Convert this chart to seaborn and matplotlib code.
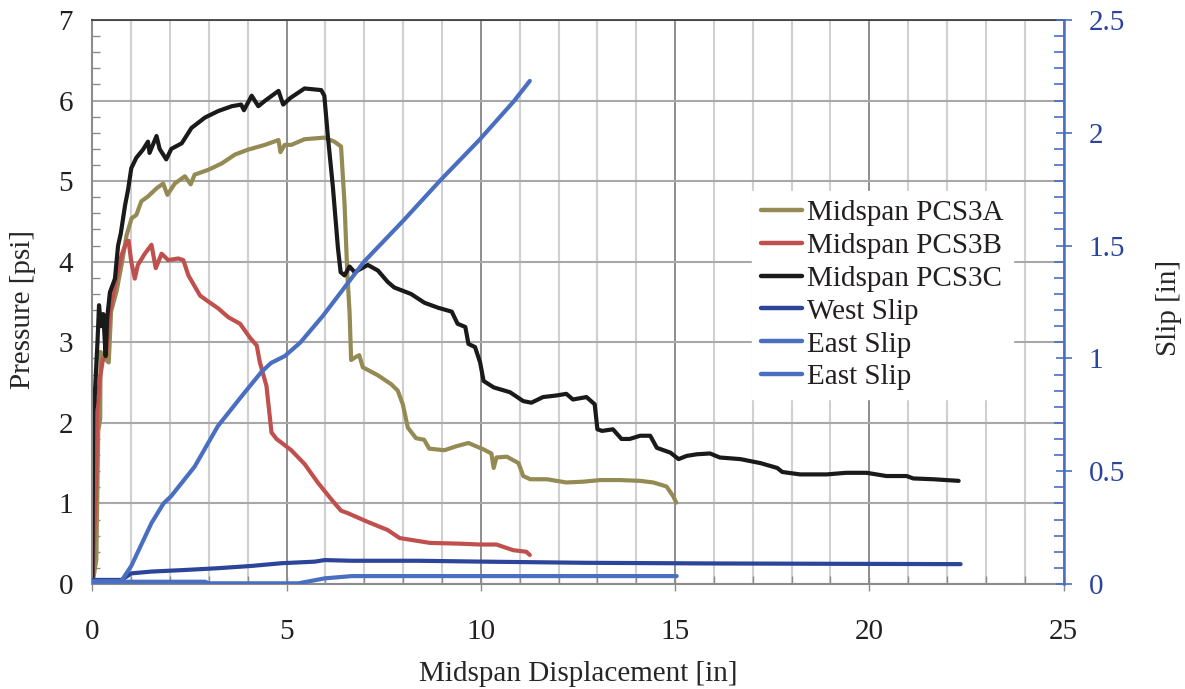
import pandas as pd
import seaborn as sns
from matplotlib import pyplot as plt, ticker
from matplotlib.lines import Line2D

# (midspan displacement [in], pressure [psi])
pcs3a = [(0, 0), (0.1, 0.3), (0.15, 1.9), (0.2, 2.05), (0.21, 2.88), (0.3, 2.8), (0.42, 2.75),
         (0.48, 3.38), (0.62, 3.63), (0.75, 3.96), (0.88, 4.33), (1.01, 4.54), (1.13, 4.58),
         (1.26, 4.75), (1.43, 4.81), (1.65, 4.91), (1.82, 4.97), (1.93, 4.83), (2.12, 4.97),
         (2.38, 5.06), (2.53, 4.96), (2.63, 5.08), (2.98, 5.14), (3.33, 5.22), (3.67, 5.33),
         (4.0, 5.39), (4.44, 5.45), (4.79, 5.51), (4.84, 5.36), (4.95, 5.45), (5.12, 5.45),
         (5.46, 5.52), (5.97, 5.54), (6.23, 5.49), (6.4, 5.43), (6.49, 4.72), (6.56, 3.87),
         (6.62, 3.37), (6.66, 2.78), (6.79, 2.82), (6.87, 2.84), (6.96, 2.69), (7.35, 2.59),
         (7.69, 2.48), (7.86, 2.4), (7.99, 2.23), (8.12, 1.94), (8.33, 1.81), (8.54, 1.79),
         (8.67, 1.68), (9.06, 1.66), (9.37, 1.71), (9.68, 1.75), (10.07, 1.67), (10.27, 1.62),
         (10.33, 1.44), (10.4, 1.57), (10.67, 1.58), (10.97, 1.5), (11.09, 1.34), (11.27, 1.3),
         (11.7, 1.3), (12.2, 1.26), (12.64, 1.27), (13.07, 1.29), (13.58, 1.29), (14.1, 1.28),
         (14.44, 1.26), (14.78, 1.21), (14.95, 1.09), (15.03, 1.01)]

pcs3b = [(0, 0), (0.1, 1.3), (0.12, 2.13), (0.19, 2.54), (0.27, 2.79), (0.35, 2.83), (0.45, 3.38),
         (0.58, 3.71), (0.75, 4.08), (0.88, 4.25), (0.93, 4.26), (1.0, 4.0), (1.09, 3.79),
         (1.17, 3.96), (1.35, 4.1), (1.52, 4.21), (1.63, 3.92), (1.78, 4.1), (1.95, 4.02),
         (2.21, 4.04), (2.34, 4.02), (2.47, 3.83), (2.77, 3.58), (2.94, 3.52), (3.24, 3.42),
         (3.5, 3.31), (3.8, 3.23), (4.05, 3.06), (4.23, 2.96), (4.31, 2.75), (4.48, 2.46),
         (4.61, 1.88), (4.74, 1.8), (5.12, 1.66), (5.46, 1.49), (5.8, 1.26), (6.15, 1.05),
         (6.4, 0.91), (6.57, 0.88), (7.09, 0.77), (7.6, 0.67), (7.91, 0.57), (8.69, 0.51),
         (9.49, 0.5), (9.97, 0.49), (10.4, 0.49), (10.83, 0.42), (11.17, 0.4), (11.26, 0.36)]

pcs3c = [(0, 0), (0.02, 2.13), (0.05, 2.25), (0.13, 3.0), (0.17, 3.46), (0.22, 3.2), (0.28, 3.35),
         (0.34, 2.83), (0.38, 3.3), (0.45, 3.62), (0.58, 3.79), (0.66, 4.2), (0.73, 4.35),
         (0.84, 4.7), (0.92, 4.9), (1.0, 5.16), (1.13, 5.29), (1.3, 5.39), (1.43, 5.49),
         (1.47, 5.35), (1.65, 5.56), (1.73, 5.4), (1.9, 5.27), (2.03, 5.4), (2.3, 5.47),
         (2.55, 5.66), (2.9, 5.79), (3.24, 5.87), (3.59, 5.93), (3.83, 5.95), (3.9, 5.88),
         (4.1, 6.06), (4.27, 5.93), (4.45, 6.0), (4.79, 6.12), (4.91, 5.95), (5.09, 6.03),
         (5.46, 6.15), (5.89, 6.13), (5.97, 6.06), (6.06, 5.56), (6.19, 4.93), (6.32, 4.17),
         (6.39, 3.87), (6.49, 3.83), (6.62, 3.94), (6.75, 3.87), (7.09, 3.96), (7.35, 3.89),
         (7.6, 3.75), (7.77, 3.68), (8.2, 3.6), (8.55, 3.49), (8.89, 3.43), (9.25, 3.38),
         (9.4, 3.23), (9.6, 3.19), (9.68, 2.98), (9.85, 2.94), (9.98, 2.75), (10.07, 2.52),
         (10.33, 2.44), (10.75, 2.38), (11.09, 2.27), (11.3, 2.25), (11.6, 2.32), (11.95, 2.34),
         (12.2, 2.36), (12.37, 2.29), (12.72, 2.32), (12.93, 2.23), (13.0, 1.92), (13.12, 1.9),
         (13.4, 1.92), (13.62, 1.8), (13.83, 1.8), (14.1, 1.84), (14.36, 1.84), (14.53, 1.69),
         (14.88, 1.63), (15.09, 1.55), (15.3, 1.59), (15.56, 1.61), (15.9, 1.62), (16.15, 1.57),
         (16.68, 1.55), (17.2, 1.5), (17.63, 1.44), (17.76, 1.39), (18.22, 1.36), (18.9, 1.36),
         (19.4, 1.38), (19.93, 1.38), (20.44, 1.34), (20.96, 1.34), (21.13, 1.31), (21.65, 1.3),
         (22.3, 1.28)]

# (midspan displacement [in], slip [in])
west_slip = [(0, 0.018), (0.75, 0.018), (1.0, 0.047), (1.51, 0.055), (2.37, 0.062), (3.23, 0.07),
             (4.09, 0.08), (4.86, 0.092), (5.72, 0.099), (5.98, 0.106), (6.67, 0.103),
             (8.38, 0.103), (10.1, 0.099), (12.67, 0.094), (16.0, 0.091), (22.35, 0.088)]

east_slip_1 = [(0, 0.012), (0.74, 0.012), (1.0, 0.08), (1.52, 0.27), (1.83, 0.357), (2.03, 0.39),
               (2.63, 0.52), (3.23, 0.70), (3.83, 0.83), (4.35, 0.94), (4.6, 0.98), (4.95, 1.01),
               (5.35, 1.07), (5.94, 1.19), (7.0, 1.43), (8.0, 1.61), (8.96, 1.79), (9.97, 1.97),
               (10.85, 2.14), (11.26, 2.23)]

east_slip_2 = [(0, 0.01), (2.9, 0.01), (3.0, 0.003), (5.3, 0.003), (5.98, 0.025), (6.67, 0.035),
               (15.04, 0.035)]

labels = ['Midspan PCS3A', 'Midspan PCS3B', 'Midspan PCS3C', 'West Slip', 'East Slip', 'East Slip']
colors = ['#948a54', '#c0504d', '#1a1a1a', '#2c4499', '#4a6fc0', '#4a6fc0']


def frame(points):
    return pd.DataFrame(points, columns=['disp', 'val'])


sns.set_theme(style='white')
plt.rcParams['font.family'] = ['Liberation Serif', 'DejaVu Serif']
plt.rcParams['text.color'] = '#231f20'

fig = plt.figure(figsize=(11.85, 6.89), dpi=100)
ax = fig.add_axes([0.078, 0.1524, 0.8195, 0.8186])
ax2 = ax.twinx()

lw = 3.0
for pts, col in zip([pcs3a, pcs3b, pcs3c], colors[:3]):
    sns.lineplot(data=frame(pts), x='disp', y='val', color=col, lw=lw, sort=False,
                 estimator=None, ax=ax, legend=False)
for pts, col in zip([west_slip, east_slip_1, east_slip_2], colors[3:]):
    sns.lineplot(data=frame(pts), x='disp', y='val', color=col, lw=lw, sort=False,
                 estimator=None, ax=ax2, legend=False)

ax.set_xlim(0, 25)
ax.set_ylim(0, 7)
ax2.set_ylim(0, 2.5)

fmt = ticker.FuncFormatter(lambda v, p: f'{v:g}')
ax.xaxis.set_major_locator(ticker.MultipleLocator(5))
ax.xaxis.set_minor_locator(ticker.MultipleLocator(1))
ax.yaxis.set_major_locator(ticker.MultipleLocator(1))
ax.yaxis.set_minor_locator(ticker.MultipleLocator(0.2))
ax2.yaxis.set_major_locator(ticker.MultipleLocator(0.5))
ax2.yaxis.set_minor_locator(ticker.MultipleLocator(0.5 / 7))
ax.xaxis.set_major_formatter(fmt)
ax.yaxis.set_major_formatter(fmt)
ax2.yaxis.set_major_formatter(fmt)

# gridlines
ax.set_axisbelow(True)
ax.grid(which='minor', axis='x', color='#d0d0d0', lw=1.5)
ax.grid(which='major', axis='x', color='#7a7a7a', lw=1.2)
ax.grid(which='major', axis='y', color='#a8a8a8', lw=1.5)

# spines
for s in ['left', 'bottom']:
    ax.spines[s].set_color('#8c8c8c')
    ax.spines[s].set_linewidth(1.5)
ax.spines['top'].set_color('#333333')
ax.spines['top'].set_linewidth(1.2)
ax.spines['right'].set_visible(False)
for s in ['left', 'bottom', 'top']:
    ax2.spines[s].set_visible(False)
ax2.spines['right'].set_color('#4a6fc0')
ax2.spines['right'].set_linewidth(1.8)

# ticks
ax.tick_params(axis='y', which='major', left=True, length=0, pad=14, labelsize=21,
               labelcolor='#231f20')
ax.tick_params(axis='y', which='minor', left=True, direction='in', length=6, width=1,
               color='#8c8c8c')
ax.tick_params(axis='x', which='major', bottom=True, direction='inout', length=10, width=1,
               color='#8c8c8c', pad=20, labelsize=21, labelcolor='#231f20')
ax.tick_params(axis='x', which='minor', bottom=True, direction='in', length=6, width=1,
               color='#8c8c8c')
ax2.tick_params(axis='y', which='major', right=True, direction='inout', length=12, width=1.2,
                color='#4a6fc0', pad=12, labelsize=21, labelcolor='#2c4499')
ax2.tick_params(axis='y', which='minor', right=True, direction='in', length=7, width=1.2,
                color='#4a6fc0')

ax.set_xlabel('Midspan Displacement [in]', fontsize=21)
ax.set_ylabel('Pressure [psi]', fontsize=21)
ax2.set_ylabel('Slip [in]', fontsize=21)
ax.xaxis.set_label_coords(0.5, -0.137)
ax.yaxis.set_label_coords(-0.058, 0.486)
ax2.yaxis.set_label_coords(1.095, 0.49)

handles = [Line2D([], [], color=c, lw=3.2) for c in colors]
leg = ax2.legend(handles, labels, loc='upper left', bbox_to_anchor=(752 / 1185, 1 - 191 / 689),
                 bbox_transform=fig.transFigure, frameon=True, facecolor='white',
                 edgecolor='white', framealpha=1, fancybox=False, fontsize=21,
                 handlelength=1.4, handletextpad=0.2, labelspacing=0.22, borderpad=0.3,
                 borderaxespad=0)

fig.savefig('out.png', dpi=100)
